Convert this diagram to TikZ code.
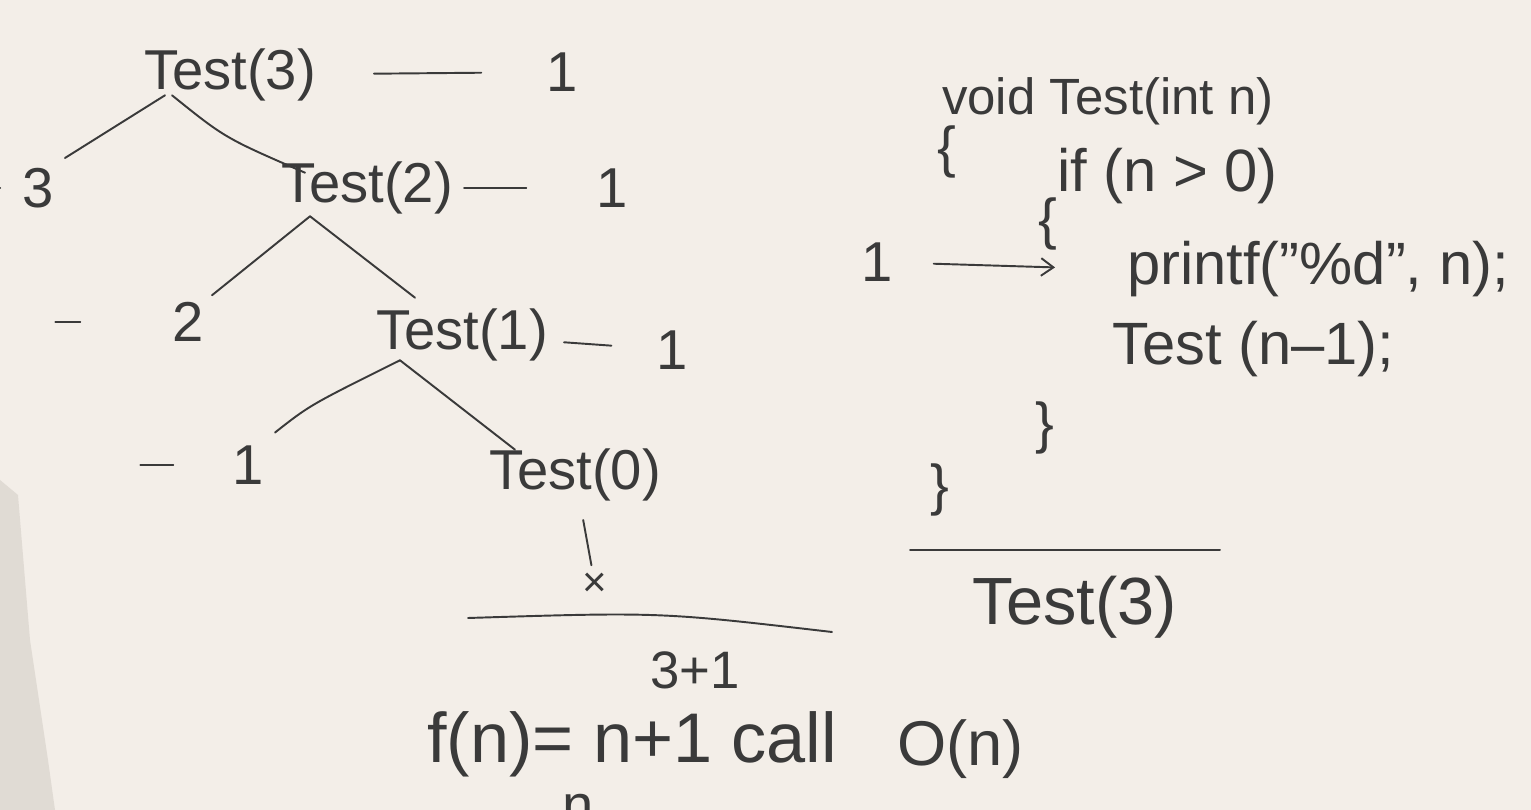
\documentclass[tikz,border=0pt]{standalone}
\usepackage{fontspec}
\setmainfont{Liberation Sans}
\usepackage{tikz}
\usetikzlibrary{arrows.meta, positioning}
\definecolor{BoardWhite}{HTML}{F3EEE8}
\definecolor{InkGray}{HTML}{3A3A3A}
\definecolor{ArmGray}{HTML}{D9D3CC}

\begin{document}
\begin{tikzpicture}[
    x=0.02cm, y=-0.02cm,
    node distance=0.55cm,
    hand/.style={inner sep=1pt, text=InkGray, font=\fontsize{32}{36}\selectfont},
    code/.style={hand, anchor=base west},
    brace/.style={hand, font=\fontsize{32}{36}\selectfont},
    stroke/.style={draw=InkGray, line width=1.1pt, line cap=round},
    arrow/.style={stroke, -{Straight Barb[length=7pt, width=10pt]}}
]

\fill[BoardWhite] (0,0) rectangle (1531,810);
\useasboundingbox (0,0) rectangle (1531,810);
\fill[ArmGray, opacity=0.7] (0,480) -- (18,495) -- (30,640) -- (48,760) -- (55,810) -- (0,810) -- cycle;

\node[hand] (t3) at (230,75) {Test(3)};
\node[hand] (c3) at (562,72) {1};
\node[hand] (p3) at (38,188) {3};
\node[hand] (t2) at (367,188) {Test(2)};
\node[hand] (c2) at (612,188) {1};
\node[hand] (p2) at (188,322) {2};
\node[hand] (t1) at (462,335) {Test(1)};
\node[hand] (c1) at (672,350) {1};
\node[hand] (p1) at (248,465) {1};
\node[hand] (t0) at (575,475) {Test(0)};
\node[hand, font=\fontsize{24}{28}\selectfont] (stop) at (595,585) {×};
\node[hand, font=\fontsize{30}{34}\selectfont] (sum) at (695,670) {3+1};
\node[code, font=\fontsize{40}{44}\selectfont] (fn) at (425,762) {f(n)= n+1 call};
\node[code, font=\fontsize{36}{40}\selectfont] (bigo) at (895,765) {O(n)};
\node[code] (nn) at (560,824) {n};

\draw[stroke, shorten <=1.12cm, shorten >=1.26cm] (t3) -- (c3);
\draw[stroke, shorten <=0.18cm, shorten >=1.36cm] (t2) -- (c2);
\draw[stroke, shorten <=0.28cm, shorten >=0.86cm] (t1) -- (c1);
\draw[stroke] ([xshift=-0.66cm]p3.west) -- ++(13,0);
\draw[stroke] ([xshift=-2.3cm]p2.west) -- ++(25,0);
\draw[stroke] ([xshift=-1.8cm]p1.west) -- ++(33,0);

\draw[stroke] ([xshift=-1.3cm, yshift=0.16cm]t3.south) -- ([xshift=0.54cm, yshift=0.16cm]p3.north);
\draw[stroke] ([xshift=-1.16cm, yshift=0.16cm]t3.south) .. controls (225,138) .. ([xshift=-1.24cm, yshift=-0.26cm]t2.north);
\draw[stroke] ([xshift=-1.14cm]t2.south) -- ([xshift=0.48cm, yshift=0.1cm]p2.north);
\draw[stroke] ([xshift=-1.14cm]t2.south) -- ([xshift=-0.94cm, yshift=0.18cm]t1.north);
\draw[stroke] ([xshift=-1.24cm, yshift=0.06cm]t1.south) .. controls (310,405) .. ([xshift=0.54cm, yshift=0.22cm]p1.north);
\draw[stroke] ([xshift=-1.24cm, yshift=0.06cm]t1.south) -- ([xshift=-1.2cm, yshift=-0.06cm]t0.north);
\draw[stroke, shorten <=0.34cm, shorten >=0.12cm] (t0) -- (stop);
\draw[stroke] (468,618) .. controls (660,612) .. (832,632);

\node[code, font=\fontsize{29}{33}\selectfont] (sig) at (940,115) {void Test(int n)};
\node[brace] (ob) at (947,152) {\{};
\node[code, font=\fontsize{34}{38}\selectfont] (cond) at (1055,192) {if (n > 0)};
\node[brace] (ib) at (1048,224) {\{};
\node[hand] (one) at (877,262) {1};
\node[code, font=\fontsize{34}{38}\selectfont] (print) at (1125,285) {printf("\%d", n);};
\node[code, font=\fontsize{34}{38}\selectfont] (rec) at (1110,365) {Test (n--1);};
\node[brace] (ic) at (1045,428) {\}};
\node[brace] (oc) at (940,490) {\}};
\node[hand, font=\fontsize{38}{42}\selectfont] (call) at (1075,607) {Test(3)};

\draw[arrow, shorten <=0.78cm, shorten >=1.4cm] (one) -- (print.west);
\draw[stroke] (910,550) -- (1220,550);

\end{tikzpicture}
\end{document}
